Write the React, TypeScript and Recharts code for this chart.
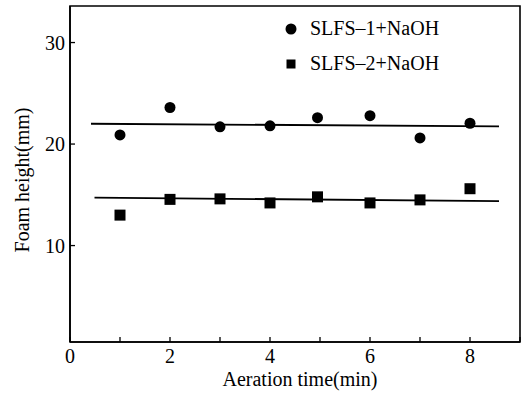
import React from 'react';
import {
  ComposedChart,
  Scatter,
  Line,
  XAxis,
  YAxis,
  ReferenceArea,
  Legend,
} from 'recharts';

// ---- data ----
const timeMin = [1, 2, 3, 4, 4.95, 6, 7, 8];
const slfs1Height = [20.9, 23.6, 21.7, 21.8, 22.6, 22.8, 20.6, 22.05];
const slfs2Height = [13.0, 14.55, 14.6, 14.2, 14.8, 14.2, 14.5, 15.6];

const fit1X = [0.42, 8.58];
const fit1Y = [22.0, 21.75];
const fit2X = [0.49, 8.58];
const fit2Y = [14.72, 14.38];

const xTicks = [0, 1, 2, 3, 4, 5, 6, 7, 8, 9];
const yTicks = [10, 20, 30];
const xDomain = [0, 9];
const yDomain = [0.5, 33.6];

const seriesNames = ['SLFS–1+NaOH', 'SLFS–2+NaOH'];
const xTitle = 'Aeration time(min)';
const yTitle = 'Foam height(mm)';

const s1 = timeMin.map((t, i) => ({ t, h: slfs1Height[i] }));
const s2 = timeMin.map((t, i) => ({ t, h: slfs2Height[i] }));
const f1 = fit1X.map((t, i) => ({ t, h: fit1Y[i] }));
const f2 = fit2X.map((t, i) => ({ t, h: fit2Y[i] }));

const FONT = '"Liberation Serif", "Times New Roman", serif';
const FS = 20;

const CircleShape = (p: any) => <circle cx={p.cx} cy={p.cy} r={5.5} fill="#000" />;
const SquareShape = (p: any) => (
  <rect x={p.cx - 5.5} y={p.cy - 5.5} width={11} height={11} fill="#000" />
);

const LegendContent = () => (
  <div style={{ fontFamily: FONT, fontSize: FS, color: '#000' }}>
    {seriesNames.map((name, i) => (
      <div key={name} style={{ display: 'flex', alignItems: 'center', height: 35 }}>
        <svg width={14} height={14} style={{ marginRight: 12 }}>
          {i === 0 ? (
            <circle cx={7} cy={7} r={5.5} fill="#000" />
          ) : (
            <rect x={2.5} y={2.5} width={9} height={9} fill="#000" />
          )}
        </svg>
        <span>{name}</span>
      </div>
    ))}
  </div>
);

const XTitle = (props: any) => {
  const vb = props.viewBox;
  return (
    <text
      x={vb.x + vb.width / 2 + 5}
      y={vb.y + 44}
      textAnchor="middle"
      fontFamily={FONT}
      fontSize={FS}
      fill="#000"
    >
      {xTitle}
    </text>
  );
};

const YTitle = (props: any) => {
  const vb = props.viewBox;
  const cx = vb.x + 5;
  const cy = vb.y + vb.height / 2 + 6;
  return (
    <text
      x={cx}
      y={cy}
      transform={`rotate(-90, ${cx}, ${cy})`}
      textAnchor="middle"
      dominantBaseline="central"
      fontFamily={FONT}
      fontSize={FS}
      fill="#000"
    >
      {yTitle}
    </text>
  );
};

export default function App() {
  return (
    <div style={{ position: 'absolute', left: 0, top: 0, background: '#fff' }}>
      <ComposedChart
        width={530}
        height={397}
        margin={{ top: 6, right: 10, bottom: 0, left: 17 }}
        style={{ fontFamily: FONT }}
      >
        <XAxis
          dataKey="t"
          type="number"
          domain={xDomain}
          ticks={xTicks}
          interval={0}
          allowDataOverflow
          height={55}
          tickSize={-5}
          tickMargin={12}
          tickFormatter={(v: number) => (v % 2 === 0 && v < 9 ? String(v) : '')}
          tick={{ fill: '#000', fontSize: FS, fontFamily: FONT }}
          axisLine={{ stroke: '#000', strokeWidth: 1.6 }}
          tickLine={{ stroke: '#000', strokeWidth: 1.3 }}
          label={<XTitle />}
        />
        <YAxis
          dataKey="h"
          type="number"
          domain={yDomain}
          ticks={yTicks}
          interval={0}
          allowDataOverflow
          width={53}
          tickSize={-5}
          tickMargin={10}
          tick={{ fill: '#000', fontSize: FS, fontFamily: FONT }}
          axisLine={{ stroke: '#000', strokeWidth: 1.6 }}
          tickLine={{ stroke: '#000', strokeWidth: 1.3 }}
          label={<YTitle />}
        />
        <ReferenceArea
          x1={xDomain[0]}
          x2={xDomain[1]}
          y1={yDomain[0]}
          y2={yDomain[1]}
          fill="none"
          stroke="#000"
          strokeWidth={1.6}
          ifOverflow="visible"
        />
        <Legend
          verticalAlign="middle"
          align="center"
          layout="horizontal"
          content={<LegendContent />}
          wrapperStyle={{ position: 'absolute', left: 284, top: 11, width: 220, height: 70 }}
        />
        <Line
          data={f1}
          dataKey="h"
          stroke="#000"
          strokeWidth={1.8}
          dot={false}
          legendType="none"
          isAnimationActive={false}
        />
        <Line
          data={f2}
          dataKey="h"
          stroke="#000"
          strokeWidth={1.8}
          dot={false}
          legendType="none"
          isAnimationActive={false}
        />
        <Scatter
          name={seriesNames[0]}
          data={s1}
          dataKey="h"
          fill="#000"
          shape={CircleShape}
          isAnimationActive={false}
        />
        <Scatter
          name={seriesNames[1]}
          data={s2}
          dataKey="h"
          fill="#000"
          shape={SquareShape}
          isAnimationActive={false}
        />
      </ComposedChart>
    </div>
  );
}
